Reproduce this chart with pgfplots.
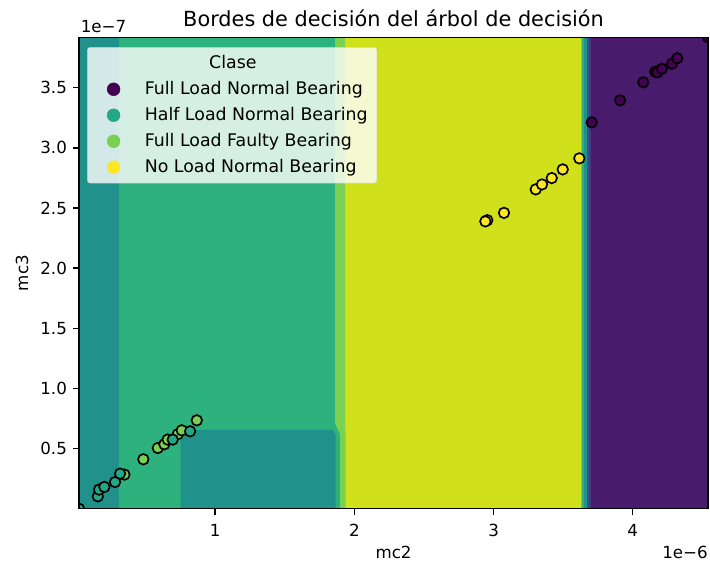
\documentclass[border=0pt]{standalone}
\usepackage{pgfplots}
\pgfplotsset{compat=1.18}
\usepackage{fontspec}
\setmainfont{DejaVu Sans}

\definecolor{rPurple}{HTML}{481B6D}
\definecolor{rPurpleBlue}{HTML}{443983}
\definecolor{rBlue}{HTML}{3B528B}
\definecolor{rTeal}{HTML}{21918C}
\definecolor{rGreen}{HTML}{2DB27D}
\definecolor{rLight}{HTML}{7AD151}
\definecolor{rYellow}{HTML}{D0E11C}
\definecolor{pPurple}{HTML}{440154}
\definecolor{pHalf}{HTML}{22A884}
\definecolor{pFaulty}{HTML}{7AD151}
\definecolor{pNoLoad}{HTML}{FDE725}

\pgfplotsset{
  myleg/.style={legend image code/.code={\path (-14.1pt,0pt) (20.3pt,0pt); \draw[##1] plot coordinates {(0pt,0pt)};}},
}

\begin{document}
\begin{tikzpicture}
\begin{axis}[
  scale only axis, width=452.9pt, height=339.4pt,
  xmin=0.022, xmax=4.541, ymin=0, ymax=3.919,
  axis on top,
  tick pos=left, tick align=outside, major tick length=4.2pt,
  every tick/.style={black, line width=1pt},
  axis line style={line width=1pt},
  xtick={1,2,3,4}, ytick={0.5,1.0,1.5,2.0,2.5,3.0,3.5},
  /pgf/number format/assume math mode=true,
  xticklabel style={yshift=-3.5pt},
  yticklabel style={xshift=-1pt, /pgf/number format/.cd, fixed, fixed zerofill, precision=1},
  tick label style={font=\fontsize{12}{14}\selectfont},
  xlabel={mc2}, ylabel={mc3},
  label style={font=\fontsize{12}{14}\selectfont},
  xlabel style={at={(axis description cs:0.5,0)}, anchor=base, yshift=-35.7pt},
  ylabel style={at={(axis description cs:-0.0810,0.5)}, anchor=base},
  every axis title shift=0pt,
  title={Bordes de decisión del árbol de decisión},
  title style={font=\fontsize{15}{18}\selectfont, at={(axis description cs:0.5,1)}, anchor=base, yshift=7.7pt},
  legend style={at={(axis description cs:0.0128,0.9794)}, anchor=north west,
    fill=white, fill opacity=0.8, draw=black!20, draw opacity=0.8, text opacity=1,
    rounded corners=2pt, font=\fontsize{12.5}{15}\selectfont,
    row sep=3.7pt, inner xsep=4.6pt, inner ysep=4pt},
  legend cell align=left,
]
% decision regions
\addplot[fill=rTeal, draw=none, forget plot] coordinates {(0.022,0) (0.312,0) (0.312,3.919) (0.022,3.919)} -- cycle;
\addplot[fill=rGreen, draw=none, forget plot] coordinates {(0.310,0) (1.905,0) (1.905,3.919) (0.310,3.919)} -- cycle;
\addplot[fill=rTeal, draw=none, forget plot] coordinates {(0.752,0) (1.866,0) (1.866,0.615) (1.845,0.655) (0.752,0.655)} -- cycle;
\addplot[fill=rYellow, draw=none, forget plot] coordinates {(1.930,0) (3.632,0) (3.632,3.919) (1.930,3.919)} -- cycle;
\addplot[fill=rLight, draw=none, forget plot] coordinates {(1.861,3.919) (1.933,3.919) (1.933,0.68) (1.938,0.62) (1.938,0) (1.898,0) (1.898,0.62) (1.885,0.65) (1.861,0.71)} -- cycle;
\addplot[fill=rLight, draw=none, forget plot] coordinates {(3.628,0) (3.640,0) (3.640,3.919) (3.628,3.919)} -- cycle;
\addplot[fill=rGreen, draw=none, forget plot] coordinates {(3.638,0) (3.652,0) (3.652,3.919) (3.638,3.919)} -- cycle;
\addplot[fill=rTeal, draw=none, forget plot] coordinates {(3.650,0) (3.670,0) (3.670,3.919) (3.650,3.919)} -- cycle;
\addplot[fill=rBlue, draw=none, forget plot] coordinates {(3.668,0) (3.687,0) (3.687,3.919) (3.668,3.919)} -- cycle;
\addplot[fill=rPurpleBlue, draw=none, forget plot] coordinates {(3.685,0) (3.701,0) (3.701,3.919) (3.685,3.919)} -- cycle;
\addplot[fill=rPurple, draw=none, forget plot] coordinates {(3.699,0) (4.541,0) (4.541,3.919) (3.699,3.919)} -- cycle;

% legend
\addlegendimage{empty legend}
\addlegendentry{\hspace{46.3pt}Clase}
\addlegendimage{myleg, only marks, mark=*, mark size=4.6pt, mark options={draw=pPurple, fill=pPurple, fill opacity=1, draw opacity=1}}
\addlegendentry{Full Load Normal Bearing}
\addlegendimage{myleg, only marks, mark=*, mark size=4.6pt, mark options={draw=pHalf, fill=pHalf, fill opacity=1, draw opacity=1}}
\addlegendentry{Half Load Normal Bearing}
\addlegendimage{myleg, only marks, mark=*, mark size=4.6pt, mark options={draw=pFaulty, fill=pFaulty, fill opacity=1, draw opacity=1}}
\addlegendentry{Full Load Faulty Bearing}
\addlegendimage{myleg, only marks, mark=*, mark size=4.6pt, mark options={draw=pNoLoad, fill=pNoLoad, fill opacity=1, draw opacity=1}}
\addlegendentry{No Load Normal Bearing}

% data points
\addplot[only marks, mark=*, mark size=3.8pt, clip marker paths=true, mark options={draw=black, line width=1.2pt, fill=pPurple}, forget plot]
coordinates {(3.705,3.212) (3.909,3.395) (4.076,3.545) (4.162,3.633) (4.177,3.628) (4.210,3.658) (4.282,3.700) (4.320,3.745) (4.541,3.919)};
\addplot[only marks, mark=*, mark size=3.8pt, clip marker paths=true, mark options={draw=black, line width=1.2pt, fill=pNoLoad}, forget plot]
coordinates {(2.955,2.399) (2.941,2.389) (3.075,2.460) (3.303,2.655) (3.348,2.696) (3.418,2.749) (3.497,2.821) (3.616,2.913)};
\addplot[only marks, mark=*, mark size=3.8pt, clip marker paths=true, mark options={draw=black, line width=1.2pt, fill=pFaulty}, forget plot]
coordinates {(0.348,0.284) (0.484,0.411) (0.588,0.505) (0.635,0.536) (0.659,0.575) (0.731,0.619) (0.760,0.652) (0.868,0.735)};
\addplot[only marks, mark=*, mark size=3.8pt, clip marker paths=true, mark options={draw=black, line width=1.2pt, fill=pHalf}, forget plot]
coordinates {(0.022,0.0) (0.157,0.103) (0.166,0.159) (0.204,0.181) (0.281,0.222) (0.317,0.292) (0.695,0.575) (0.820,0.644)};
\end{axis}
\node[anchor=base west, inner sep=0pt, font=\fontsize{12}{14}\selectfont] at ([shift={(1.1pt,3.2pt)}]current axis.north west) {1e−7};
\node[anchor=base east, inner sep=0pt, font=\fontsize{12}{14}\selectfont] at ([shift={(0pt,-35.7pt)}]current axis.south east) {1e−6};
\pgfresetboundingbox
\path ([shift={(-56.9pt,-39.1pt)}]current axis.south west) rectangle ([shift={(1.4pt,26.9pt)}]current axis.north east);
\end{tikzpicture}
\end{document}
